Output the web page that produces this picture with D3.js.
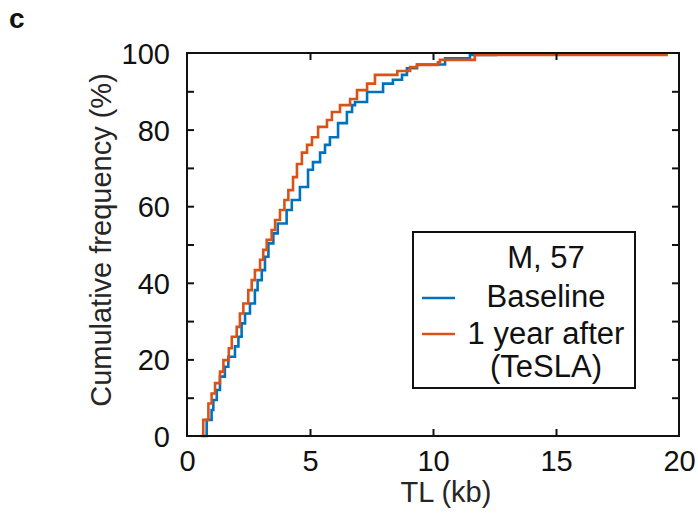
<!DOCTYPE html>
<html>
<head>
<meta charset="utf-8">
<script src="https://cdn.jsdelivr.net/npm/d3@7"></script>
<style>
  html, body { margin: 0; padding: 0; background: #fff; }
  svg { display: block; font-family: "Liberation Sans", Arial, Helvetica, sans-serif; }
</style>
</head>
<body>
<svg id="chart" width="698" height="517"></svg>
<script>
// cumulative frequency of telomere length
// each pair = TL (kb) where the step happens, cumulative % after it
const baselineTL  = [0.66, 0.80, 1.00, 1.07, 1.21, 1.34, 1.54, 1.68, 1.95, 2.09, 2.22, 2.36, 2.56, 2.76, 2.87, 3.04, 3.17, 3.31, 3.51, 3.69, 4.05, 4.26, 4.59, 4.92, 5.12, 5.41, 5.61, 5.81, 6.14, 6.50, 6.71, 6.83, 7.32, 7.97, 8.37, 8.74, 8.94, 9.35, 10.49, 11.50, 12.60];
const baselinePct = [0,    4.2,  6.8,  9.4,  12,   15.5, 18.1, 20.7, 23.4, 25.9, 29.4, 32,   34.6, 38.1, 40.7, 43.3, 46.8, 50.3, 52.9, 55.5, 59,   61.6, 65,   69.5, 71.5, 74,   76,   78,   81.7, 84.6, 86.4, 87.2, 89.8, 92,   93,   94.3, 96,   97,   98.6,  99.5,  99.5];
const afterTL  = [0.55, 0.66, 0.87, 1.00, 1.14, 1.34, 1.48, 1.70, 1.82, 2.02, 2.15, 2.29, 2.49, 2.63, 2.76, 2.97, 3.10, 3.24, 3.44, 3.58, 3.78, 3.96, 4.12, 4.31, 4.47, 4.67, 4.88, 5.08, 5.33, 5.69, 5.89, 6.22, 6.63, 6.91, 7.32, 7.64, 8.55, 9.07, 9.35, 10.20, 10.28, 11.70, 19.55];
const afterPct = [0,    4.2,  8.5,  11.1, 13.8, 16.8, 19.8, 22.9, 25.9, 28.5, 32,   34.6, 38.1, 40.7, 43.3, 46,   48.6, 51.2, 53.8, 56.4, 59,   61.6, 64.2, 67.6, 71,   74,   76,   78,   80.7, 82.5, 84.6, 86.4, 88,   90.3, 92,   94.3, 95.3, 96.3, 96.9, 97.6,  98.2,  99.5,  99.5];

const seriesNames = ['Baseline', '1 year after'];
const seriesColors = ['#0072BD', '#D95319'];
const legendTitle = 'M, 57';
const xTicks = [0, 5, 10, 15, 20];
const yTicks = [0, 20, 40, 60, 80, 100];
const yMinor = [10, 30, 50, 70, 90];

const svg = d3.select('#chart');
const L = 187, R = 679, T = 53, B = 436;
const ink = '#111';
const x = d3.scaleLinear().domain([0, 20]).range([L, R]);
const y = d3.scaleLinear().domain([0, 100]).range([B, T]);

// panel letter
svg.append('text').attr('x', 9).attr('y', 28).attr('font-size', 28).attr('font-weight', 'bold')
  .attr('fill', ink).text('c');

// curves
const line = d3.line().x(d => x(d[0])).y(d => y(d[1])).curve(d3.curveStepAfter);
const series = [
  d3.zip(baselineTL, baselinePct),
  d3.zip(afterTL, afterPct)
];
series.forEach((pts, i) => {
  svg.append('path').attr('d', line(pts)).attr('fill', 'none')
    .attr('stroke', seriesColors[i]).attr('stroke-width', 2.6);
});

// axes: box with inward ticks on all sides
const tl = 7;
const gb = svg.append('g').attr('transform', `translate(0,${B})`)
  .call(d3.axisBottom(x).tickValues(xTicks).tickSizeInner(-tl).tickSizeOuter(0).tickPadding(14));
const gt = svg.append('g').attr('transform', `translate(0,${T})`)
  .call(d3.axisTop(x).tickValues(xTicks).tickSizeInner(-tl).tickSizeOuter(0).tickFormat(''));
const gl = svg.append('g').attr('transform', `translate(${L},0)`)
  .call(d3.axisLeft(y).tickValues(yTicks.concat(yMinor)).tickSizeInner(-tl).tickSizeOuter(0)
    .tickPadding(17).tickFormat(d => yTicks.includes(d) ? d : ''));
const gr = svg.append('g').attr('transform', `translate(${R},0)`)
  .call(d3.axisRight(y).tickValues(yTicks.concat(yMinor)).tickSizeInner(-tl).tickSizeOuter(0).tickFormat(''));
[gb, gt, gl, gr].forEach(g => {
  g.select('.domain').remove();
  g.selectAll('.tick line').attr('stroke', ink).attr('stroke-width', 2);
  g.selectAll('.tick text').attr('font-size', 29).attr('fill', ink)
    .attr('font-family', '"Liberation Sans", Arial, sans-serif');
});
// end ticks at the corners would double the frame, drop them
gb.selectAll('.tick').filter(d => d === 0 || d === 20).select('line').remove();
gt.selectAll('.tick').filter(d => d === 0 || d === 20).select('line').remove();
gl.selectAll('.tick').filter(d => d === 0 || d === 100).select('line').remove();
gr.selectAll('.tick').filter(d => d === 0 || d === 100).select('line').remove();
gl.selectAll('.tick text').attr('dy', '0.36em');

svg.append('rect').attr('x', L).attr('y', T).attr('width', R - L).attr('height', B - T)
  .attr('fill', 'none').attr('stroke', ink).attr('stroke-width', 2);

// axis titles
svg.append('text').attr('x', 446).attr('y', 502).attr('text-anchor', 'middle')
  .attr('font-size', 29).attr('fill', '#262626').text('TL (kb)');
svg.append('text').attr('transform', 'translate(111,240) rotate(-90)').attr('text-anchor', 'middle')
  .attr('font-size', 29).attr('fill', '#262626').text('Cumulative frequency (%)');

// legend
const lg = svg.append('g');
lg.append('rect').attr('x', 413).attr('y', 232).attr('width', 222).attr('height', 156)
  .attr('fill', '#fff').attr('stroke', ink).attr('stroke-width', 2);
const lines = [
  { t: legendTitle, y: 268 },
  { t: seriesNames[0], y: 307, c: seriesColors[0], ly: 298 },
  { t: seriesNames[1], y: 344, c: seriesColors[1], ly: 334 },
  { t: '(TeSLA)', y: 377 }
];
lines.forEach(d => {
  lg.append('text').attr('x', 546).attr('y', d.y).attr('text-anchor', 'middle')
    .attr('font-size', 31).attr('fill', ink).text(d.t);
  if (d.c) lg.append('line').attr('x1', 422).attr('x2', 455).attr('y1', d.ly).attr('y2', d.ly)
    .attr('stroke', d.c).attr('stroke-width', 2.6);
});
</script>
</body>
</html>
